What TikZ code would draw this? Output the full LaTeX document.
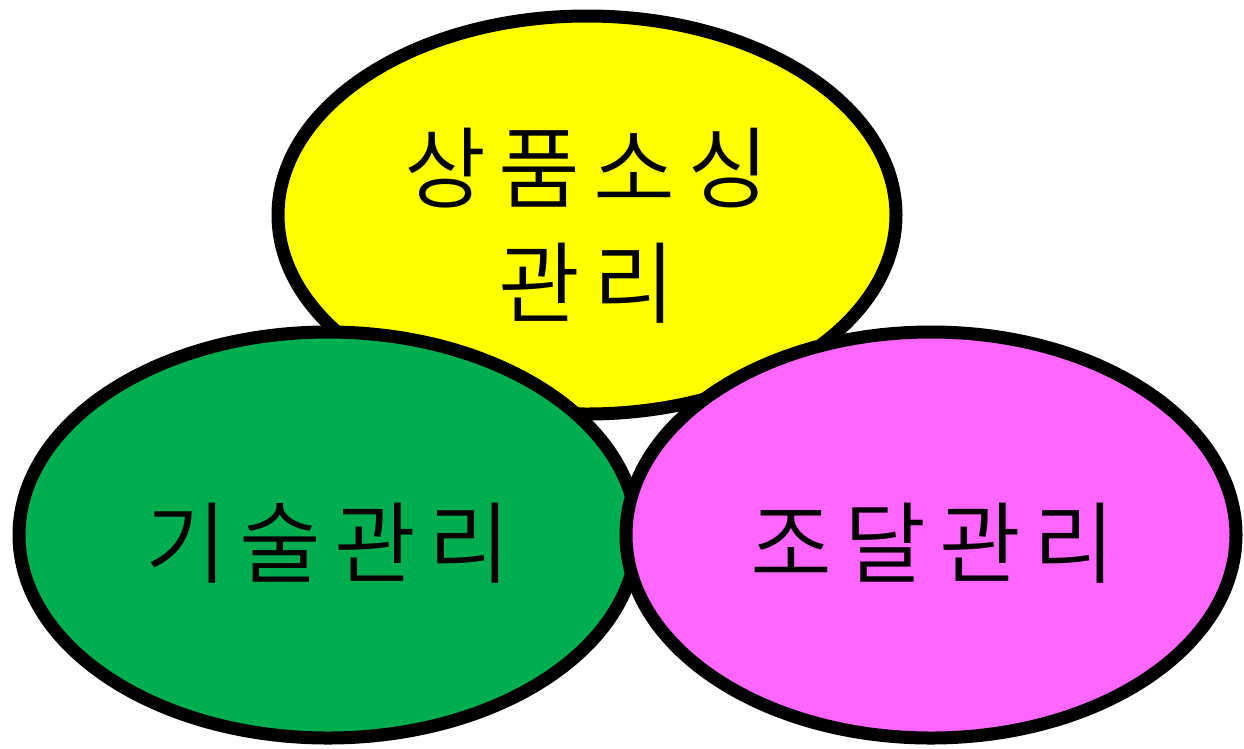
\documentclass[tikz,border=0pt]{standalone}
\usepackage{fontspec}
\newfontfamily\kr[UprightFont=* DemiLight,LetterSpace=14]{Noto Sans CJK KR}
\begin{document}
\begin{tikzpicture}[x=1pt,y=-1pt,
  lbl/.style={font=\kr\fontsize{89}{115}\selectfont,align=center,text=black}]
\useasboundingbox (0,0) rectangle (1244,748);
\draw[line width=13pt,fill={rgb,255:red,255;green,255;blue,0}] (587,215) ellipse [x radius=309,y radius=199];
\draw[line width=13pt,fill={rgb,255:red,0;green,173;blue,79}] (328,535) ellipse [x radius=309,y radius=203];
\draw[line width=13pt,fill={rgb,255:red,255;green,102;blue,255}] (931,535) ellipse [x radius=305,y radius=203];
\node[lbl] (a) at (587,226) {상품소싱\\관리};
\node[lbl] (b) at (328,543) {기술관리};
\node[lbl] (c) at (933,543) {조달관리};
\end{tikzpicture}
\end{document}
